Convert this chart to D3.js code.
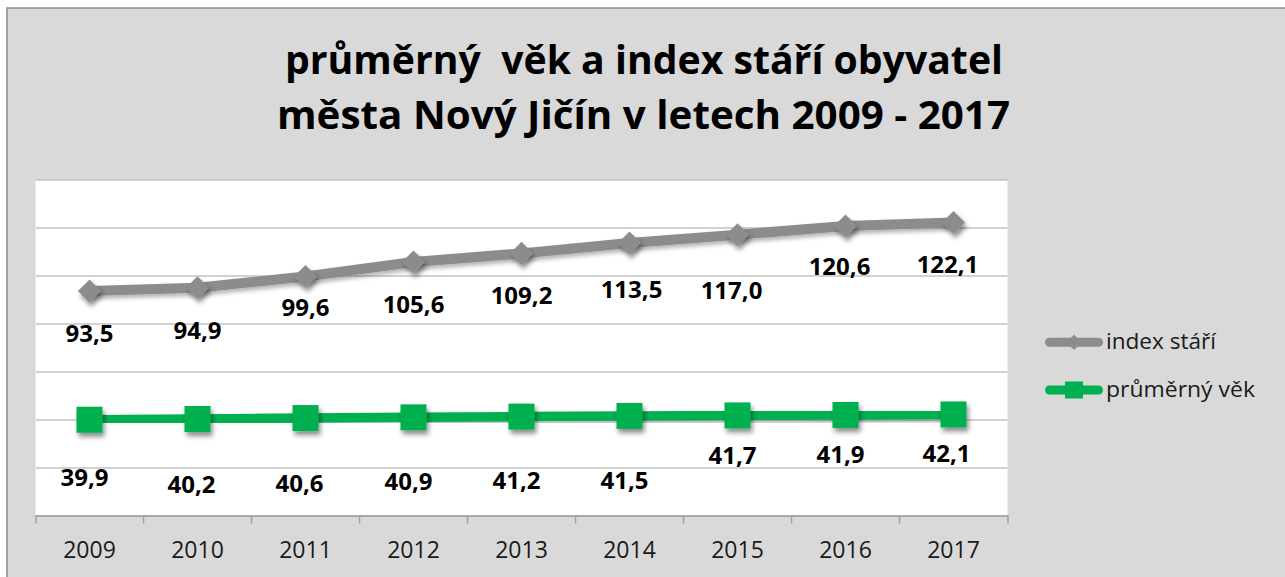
<!DOCTYPE html>
<html><head><meta charset="utf-8">
<script src="https://cdn.jsdelivr.net/npm/d3@7"></script>
<style>html,body{margin:0;padding:0;background:#fff;}svg{display:block;}</style>
</head><body>
<script>
// ---- data ----
const years = ["2009","2010","2011","2012","2013","2014","2015","2016","2017"];
const indexStari = [93.5, 94.9, 99.6, 105.6, 109.2, 113.5, 117.0, 120.6, 122.1];
const prumernyVek = [39.9, 40.2, 40.6, 40.9, 41.2, 41.5, 41.7, 41.9, 42.1];
const seriesNames = ["index stáří", "průměrný věk"];
const titleLines = ["průměrný  věk a index stáří obyvatel", "města Nový Jičín v letech 2009 - 2017"];
const yTicks = [0, 20, 40, 60, 80, 100, 120, 140];
// ---- layout (label placement, px) ----
const indexLabelDy = [42, 42.5, 31, 42, 42, 46, 55.5, 40, 41.7];
const indexLabelDx = [0, 0, 0, 0, 0, 2, -6, -6, -6];
const vekLabelDy = [58, 65, 65, 64, 64, 65, 40.5, 39.5, 39];
const vekLabelDx = [-5, -6, -6, -5, -5, -5, -5, -5, -7];

const W = 1285, H = 577;
const svg = d3.select("body").append("svg").attr("width", W).attr("height", H);
const defs = svg.append("defs");
const f = defs.append("filter").attr("id","sh").attr("x","-50%").attr("y","-50%").attr("width","200%").attr("height","200%");
f.append("feDropShadow").attr("dx",2).attr("dy",4).attr("stdDeviation",2.5).attr("flood-color","#000").attr("flood-opacity",0.45);
const f2 = defs.append("filter").attr("id","sh2").attr("x","-20%").attr("y","-50%").attr("width","140%").attr("height","200%");
f2.append("feDropShadow").attr("dx",1).attr("dy",3).attr("stdDeviation",2).attr("flood-color","#000").attr("flood-opacity",0.3);

// chart background
svg.append("rect").attr("x",7).attr("y",8).attr("width",W).attr("height",H).attr("fill","#d9d9d9")
  .attr("stroke","#8c8c8c").attr("stroke-width",1.5);

const FONT = "'Open Sans', 'Noto Sans', sans-serif";
// title
const tl = [{t:titleLines[0], y:74, len:718, cx:644},{t:titleLines[1], y:129, len:733, cx:643.5}];
svg.selectAll("text.title").data(tl).enter().append("text").attr("class","title")
  .attr("x", d=>d.cx).attr("y", d=>d.y).attr("text-anchor","middle")
  .attr("font-family", FONT).attr("font-weight","bold").attr("font-size",40).attr("fill","#000")
  .attr("textLength", d=>d.len).attr("lengthAdjust","spacingAndGlyphs")
  .style("white-space","pre").text(d=>d.t);

// scales
const x = d3.scaleBand().domain(years).range([35.5, 1007.5]).padding(0);
const y = d3.scaleLinear().domain([0, 140]).range([515.5, 179.5]);
const cx = d => x(d) + x.bandwidth()/2;

// plot area
svg.append("rect").attr("x",x.range()[0]).attr("y",y(140)).attr("width",x.range()[1]-x.range()[0])
  .attr("height",y(0)-y(140)).attr("fill","#fff");

// gridlines
const grid = svg.append("g").attr("transform",`translate(${x.range()[0]},0)`)
  .call(d3.axisLeft(y).tickValues(yTicks).tickSize(-(x.range()[1]-x.range()[0])).tickFormat(""));
grid.select(".domain").remove();
grid.selectAll(".tick line").attr("stroke","#a6a6a6").attr("stroke-width",1.2);

// x axis
const xa = svg.append("g").attr("transform",`translate(0,${y(0)})`)
  .call(d3.axisBottom(x).tickSize(0).tickSizeOuter(8).tickPadding(0));
xa.select(".domain").attr("stroke","#a0a0a0").attr("stroke-width",1.5);
xa.selectAll(".tick text").attr("font-family",FONT).attr("font-size",23).attr("fill","#1a1a1a")
  .attr("dy",null).attr("y",42.5);
xa.selectAll("line.bnd").data(years.slice(1)).enter().append("line").attr("class","bnd")
  .attr("x1",d=>x(d)).attr("x2",d=>x(d)).attr("y1",0).attr("y2",8)
  .attr("stroke","#a0a0a0").attr("stroke-width",1.5);

const line = d3.line().x((d,i)=>cx(years[i])).y(d=>y(d));

// index stáří series
const gGray = svg.append("g");
gGray.append("path").datum(indexStari).attr("d",line).attr("fill","none")
  .attr("stroke","#8c8c8c").attr("stroke-width",10).attr("stroke-linejoin","round").attr("filter","url(#sh2)");
const dia = d3.symbol().type(d3.symbolDiamond2).size(340);
gGray.selectAll("path.mk").data(indexStari).enter().append("path").attr("class","mk")
  .attr("d", dia).attr("transform",(d,i)=>`translate(${cx(years[i])},${y(d)})`)
  .attr("fill","#8c8c8c").attr("filter","url(#sh)");

// průměrný věk series
const gGreen = svg.append("g");
gGreen.append("path").datum(prumernyVek).attr("d",line).attr("fill","none")
  .attr("stroke","#00b050").attr("stroke-width",9.5).attr("stroke-linejoin","round").attr("filter","url(#sh2)");
gGreen.selectAll("rect.mk").data(prumernyVek).enter().append("rect").attr("class","mk")
  .attr("x",(d,i)=>cx(years[i])-13).attr("y",d=>y(d)-13).attr("width",26).attr("height",26)
  .attr("fill","#00b050").attr("filter","url(#sh)");

// data labels
const fmt = v => d3.format(".1f")(v).replace(".", ",");
svg.selectAll("text.li").data(indexStari).enter().append("text").attr("class","li")
  .attr("x",(d,i)=>cx(years[i]) + indexLabelDx[i]).attr("y",(d,i)=>y(d)+indexLabelDy[i]+8.5)
  .attr("text-anchor","middle").attr("font-family",FONT).attr("font-weight","bold").attr("font-size",24)
  .attr("fill","#000").text(fmt);
svg.selectAll("text.lv").data(prumernyVek).enter().append("text").attr("class","lv")
  .attr("x",(d,i)=>cx(years[i]) + vekLabelDx[i]).attr("y",(d,i)=>y(d)+vekLabelDy[i]+8.5)
  .attr("text-anchor","middle").attr("font-family",FONT).attr("font-weight","bold").attr("font-size",24)
  .attr("fill","#000").text(fmt);

// legend
const leg = [{n:seriesNames[0], c:"#8c8c8c", y:342.3, w:110, m:"d"},{n:seriesNames[1], c:"#00b050", y:390, w:149, m:"s"}];
const lg = svg.selectAll("g.leg").data(leg).enter().append("g").attr("class","leg");
lg.append("line").attr("x1",1049.5).attr("x2",1098.5).attr("y1",d=>d.y).attr("y2",d=>d.y)
  .attr("stroke",d=>d.c).attr("stroke-width",9).attr("stroke-linecap","round");
lg.filter(d=>d.m==="d").append("path").attr("d",d3.symbol().type(d3.symbolDiamond2).size(150))
  .attr("transform",d=>`translate(1074,${d.y})`).attr("fill",d=>d.c);
lg.filter(d=>d.m==="s").append("rect").attr("x",1065).attr("y",d=>d.y-8.5).attr("width",18).attr("height",17).attr("fill",d=>d.c);
lg.append("text").attr("x",1106).attr("y",d=>d.y+7).attr("font-family",FONT).attr("font-size",21)
  .attr("fill","#1a1a1a").attr("textLength",d=>d.w).attr("lengthAdjust","spacingAndGlyphs").text(d=>d.n);
</script>
</body></html>
